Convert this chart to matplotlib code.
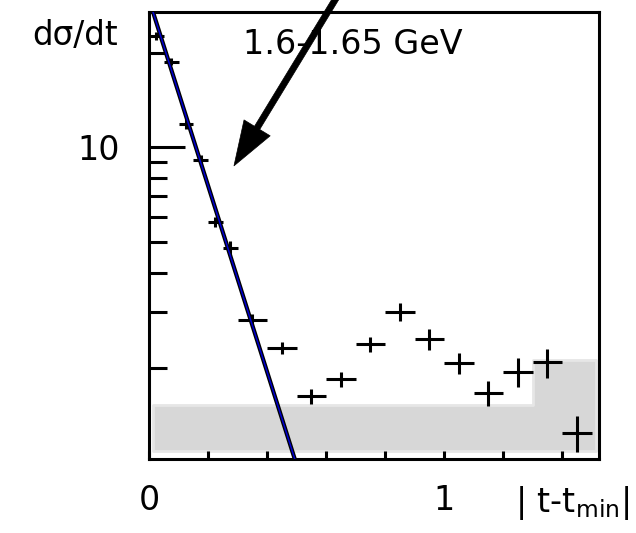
import numpy as np
import matplotlib
matplotlib.use("Agg")
import matplotlib.pyplot as plt
from matplotlib.ticker import FixedLocator, FixedFormatter, NullFormatter

plt.rcParams['font.family'] = ['DejaVu Sans']
plt.rcParams['mathtext.fontset'] = 'dejavusans'

# measured d(sigma)/dt in bins of |t - t_min|
t_center = [0.025, 0.075, 0.125, 0.175, 0.225, 0.275, 0.35, 0.45, 0.55,
            0.65, 0.75, 0.85, 0.95, 1.05, 1.15, 1.25, 1.35, 1.45]
t_halfwidth = [0.025, 0.025, 0.025, 0.025, 0.025, 0.025, 0.05, 0.05, 0.05,
               0.05, 0.05, 0.05, 0.05, 0.05, 0.05, 0.05, 0.05, 0.05]
dsdt = [22.6, 18.7, 11.9, 9.1, 5.8, 4.8, 2.83, 2.31, 1.62,
        1.84, 2.38, 3.01, 2.47, 2.07, 1.66, 1.94, 2.08, 1.24]
dsdt_err = [0.6, 0.5, 0.45, 0.35, 0.23, 0.23, 0.13, 0.10, 0.09,
            0.10, 0.13, 0.19, 0.19, 0.16, 0.15, 0.20, 0.22, 0.16]

# systematic uncertainty band
sys_edges = [0.014, 1.30, 1.515]
sys_top = [1.52, 2.11]
sys_base = 1.09

# exponential fit  A * exp(-b |t - t_min|)
fit_A = 29.5
fit_b = 6.8

fig = plt.figure(figsize=(6.36, 5.33), dpi=100)
ax = fig.add_axes([149 / 636, 1 - 459 / 533, 450 / 636, 447 / 533])
ax.set_yscale('log')
ax.set_xlim(0, 1.525)
ax.set_ylim(1.026, 26.9)

# systematic band
xs = list(sys_edges)
ys = list(sys_top) + [sys_top[-1]]
ax.fill_between(xs, sys_base, ys, step='post', facecolor='#d7d7d7',
                edgecolor='#e6e6e6', linewidth=2, zorder=1)

# data points
ax.errorbar(t_center, dsdt, xerr=t_halfwidth, yerr=dsdt_err, fmt='none',
            ecolor='black', elinewidth=2.2, capsize=0, zorder=3)

# fit curve
tt = np.linspace(0, 0.6, 300)
fit = fit_A * np.exp(-fit_b * tt)
ax.plot(tt, fit, color='black', lw=3.0, zorder=4)
ax.plot(tt, fit, color='#0000d0', lw=1.1, zorder=5)

# axes styling
for sp in ax.spines.values():
    sp.set_linewidth(2.2)

ax.yaxis.set_major_locator(FixedLocator([10]))
ax.yaxis.set_major_formatter(FixedFormatter(['10']))
ax.yaxis.set_minor_locator(FixedLocator([2, 3, 4, 5, 6, 7, 8, 9, 20]))
ax.yaxis.set_minor_formatter(NullFormatter())
ax.tick_params(axis='y', which='major', direction='in', length=26, width=2.2,
               labelsize=24, pad=21)
ax.tick_params(axis='y', which='minor', direction='in', length=13, width=2.2)

ax.xaxis.set_major_locator(FixedLocator([0, 1]))
ax.xaxis.set_major_formatter(FixedFormatter(['0', '1']))
ax.xaxis.set_minor_locator(FixedLocator([0.2, 0.4, 0.6, 0.8, 1.2, 1.4]))
ax.xaxis.set_minor_formatter(NullFormatter())
ax.tick_params(axis='x', which='both', direction='in', length=6, width=2.2,
               labelsize=24, pad=18)

# labels
fig.text(118 / 636, 1 - 45 / 533, 'dσ/dt', ha='right', va='baseline', fontsize=23.5)
fig.text(243 / 636, 1 - 54 / 533, '1.6-1.65 GeV', ha='left', va='baseline',
         fontsize=24, zorder=1)
fig.text(629 / 636, 1 - 512 / 533, r'| t-t$_{\mathrm{min}}$|', ha='right',
         va='baseline', fontsize=24)

# arrow pointing at the forward peak
ax.annotate('', xy=(0.288, 8.74), xytext=(0.641, 30.5),
            arrowprops=dict(arrowstyle='simple,head_length=1.6,head_width=1.1,tail_width=0.22',
                            mutation_scale=20, color='black', lw=0.5,
                            shrinkA=0, shrinkB=0),
            annotation_clip=False, zorder=6)

fig.savefig('out.png', dpi=100)
